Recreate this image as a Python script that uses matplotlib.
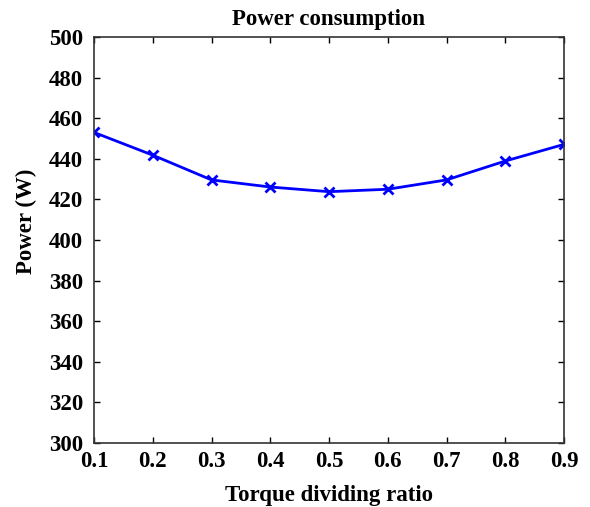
import numpy as np
from matplotlib import pyplot as plt

ratio = [0.1, 0.2, 0.3, 0.4, 0.5, 0.6, 0.7, 0.8, 0.9]
power = [453.0, 441.8, 429.6, 426.1, 423.8, 425.0, 429.6, 438.9, 447.1]

plt.rcParams['font.family'] = ['Liberation Serif', 'DejaVu Serif']
plt.rcParams['font.weight'] = 'bold'

fig = plt.figure(figsize=(5.9, 5.07), dpi=100)
ax = fig.add_axes([94/590, 1 - 443/507, (564-94)/590, (443-37)/507])

ax.plot(ratio, power, color='#0000ff', lw=2, marker='x', ms=7, mew=2)

ax.set_xlim(0.1, 0.9)
ax.set_ylim(300, 500)
ax.set_xticks(np.arange(0.1, 0.91, 0.1))
ax.set_xticklabels(['%.1f' % v for v in np.arange(0.1, 0.91, 0.1)])
ax.set_yticks(np.arange(300, 501, 20))
ax.tick_params(direction='in', top=True, right=True, labelsize=16.5, length=4,
               width=1)
ax.tick_params(axis='y', pad=8)
ax.tick_params(axis='x', pad=6)
for s in ax.spines.values():
    s.set_linewidth(1.2)
    s.set_color('#333333')

ax.set_title('Power consumption', fontsize=16.5, fontweight='bold', pad=9)
ax.set_xlabel('Torque dividing ratio', fontsize=16.5, fontweight='bold', labelpad=9)
ax.set_ylabel('Power (W)', fontsize=16.5, fontweight='bold')
# label sits a bit above the axes centre in the original
ax.yaxis.set_label_coords(-0.121, 0.547)

fig.savefig('out.png', dpi=100)
plt.close(fig)
